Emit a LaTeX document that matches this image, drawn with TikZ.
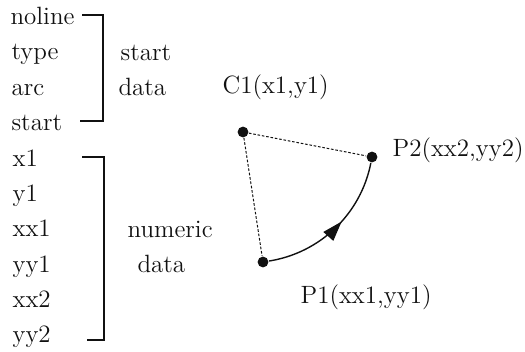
\documentclass[tikz,border=0pt]{standalone}
\usetikzlibrary{arrows.meta,decorations.markings}
\definecolor{cInk}{HTML}{111111}
\tikzset{
  every picture/.style={line width=0.6pt},
  lbl/.style={font=\fontsize{12.5}{15}\selectfont, text=cInk, inner sep=0pt, anchor=base west},
  dot/.style={circle, fill=cInk, inner sep=0pt, minimum size=5.4pt},
  brk/.style={draw=cInk, line width=0.6pt},
  guide/.style={draw=cInk, line width=0.5pt, dash pattern=on 1.3pt off 0.9pt},
  arcline/.style={draw=cInk, line width=0.7pt,
    postaction={decorate, decoration={markings,
      mark=at position 0.56 with {\arrow{Triangle[length=10pt,width=6.5pt]}}}}},
}
\begin{document}
\begin{tikzpicture}[x=0.5pt,y=0.5pt]
\useasboundingbox (0,0) rectangle (525,352);

% ------------------------------------------------------------ start data
\node[lbl] (noline) at (10,327) {noline};
\node[lbl] (type)   at (11,292) {type};
\node[lbl] (arc)    at (11,256) {arc};
\node[lbl] (start)  at (11,221) {start};
\draw[brk] (82,337) -| (103,231) -- (80,231);
\node[lbl] (sdA) at (120,291) {start};
\node[lbl] (sdB) at (118,256) {data};

% ------------------------------------------------------------ numeric data
\foreach \nm/\yb in {x1/185, y1/150, xx1/115, yy1/79, xx2/44, yy2/9}
  \node[lbl] (\nm) at (12,\yb) {\nm};
\draw[brk] (82,195) -| (104,12) -- (87,12);
\node[lbl] (ndA) at (127,114) {numeric};
\node[lbl] (ndB) at (137,79) {data};

% ------------------------------------------------------------ the arc
\node[dot] (c1) at (243,220) {};
\node[dot] (p1) at (263,90) {};
\node[dot] (p2) at (372,195) {};
\node[lbl] (c1lbl) at (222,258) {C1(x1,y1)};
\node[lbl] (p2lbl) at (392,195) {P2(xx2,yy2)};
\node[lbl] (p1lbl) at (300,48) {P1(xx1,yy1)};

\draw[guide] (c1) -- (p2);
\draw[guide] (c1) -- (p1);
\draw[arcline] (p1) to[out=9, in=-101, looseness=0.94] (p2);

\end{tikzpicture}
\end{document}
